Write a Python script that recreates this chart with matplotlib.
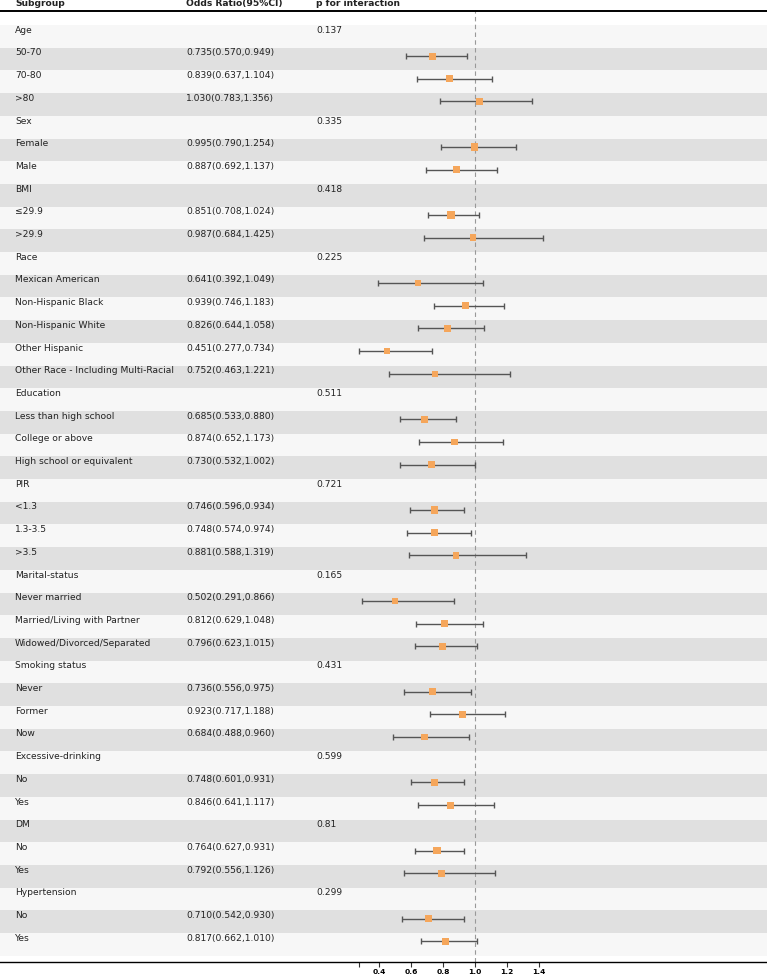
import numpy as np
import matplotlib
matplotlib.use("Agg")
from matplotlib import pyplot as plt
import matplotlib.transforms as mtransforms

# rows of the table, top to bottom
labels = ["Age", "50-70", "70-80", ">80",
          "Sex", "Female", "Male",
          "BMI", "≤29.9", ">29.9",
          "Race", "Mexican American", "Non-Hispanic Black", "Non-Hispanic White",
          "Other Hispanic", "Other Race - Including Multi-Racial",
          "Education", "Less than high school", "College or above", "High school or equivalent",
          "PIR", "<1.3", "1.3-3.5", ">3.5",
          "Marital-status", "Never married", "Married/Living with Partner", "Widowed/Divorced/Separated",
          "Smoking status", "Never", "Former", "Now",
          "Excessive-drinking", "No", "Yes",
          "DM", "No", "Yes",
          "Hypertension", "No", "Yes"]

# NaN for group header rows
odds = [np.nan, 0.735, 0.839, 1.030,
        np.nan, 0.995, 0.887,
        np.nan, 0.851, 0.987,
        np.nan, 0.641, 0.939, 0.826, 0.451, 0.752,
        np.nan, 0.685, 0.874, 0.730,
        np.nan, 0.746, 0.748, 0.881,
        np.nan, 0.502, 0.812, 0.796,
        np.nan, 0.736, 0.923, 0.684,
        np.nan, 0.748, 0.846,
        np.nan, 0.764, 0.792,
        np.nan, 0.710, 0.817]
lower = [np.nan, 0.570, 0.637, 0.783,
         np.nan, 0.790, 0.692,
         np.nan, 0.708, 0.684,
         np.nan, 0.392, 0.746, 0.644, 0.277, 0.463,
         np.nan, 0.533, 0.652, 0.532,
         np.nan, 0.596, 0.574, 0.588,
         np.nan, 0.291, 0.629, 0.623,
         np.nan, 0.556, 0.717, 0.488,
         np.nan, 0.601, 0.641,
         np.nan, 0.627, 0.556,
         np.nan, 0.542, 0.662]
upper = [np.nan, 0.949, 1.104, 1.356,
         np.nan, 1.254, 1.137,
         np.nan, 1.024, 1.425,
         np.nan, 1.049, 1.183, 1.058, 0.734, 1.221,
         np.nan, 0.880, 1.173, 1.002,
         np.nan, 0.934, 0.974, 1.319,
         np.nan, 0.866, 1.048, 1.015,
         np.nan, 0.975, 1.188, 0.960,
         np.nan, 0.931, 1.117,
         np.nan, 0.931, 1.126,
         np.nan, 0.930, 1.010]
p_inter = ["0.137", "", "", "",
           "0.335", "", "",
           "0.418", "", "",
           "0.225", "", "", "", "", "",
           "0.511", "", "", "",
           "0.721", "", "", "",
           "0.165", "", "", "",
           "0.431", "", "", "",
           "0.599", "", "",
           "0.81", "", "",
           "0.299", "", ""]

headers = ["Subgroup", "Odds Ratio(95%CI)", "p for interaction"]
xticks = [0.4, 0.6, 0.8, 1.0, 1.2, 1.4]

odds = np.array(odds)
lower = np.array(lower)
upper = np.array(upper)
n = len(labels)
rows = np.arange(n)

fig = plt.figure(figsize=(7.67, 9.76), dpi=100)
ax = fig.add_axes([0, 14 / 976, 1, 951 / 976])

txt = dict(family="DejaVu Sans", fontsize=6.6, color="#222222")

# striped background
for i in rows:
    ax.axhspan(i - 0.5, i + 0.5, color="#f7f7f7" if i % 2 == 0 else "#e0e0e0", zorder=0, lw=0)

ax.axvline(1.0, color="#999999", ls=(0, (4, 3)), lw=0.8, zorder=1)

has = ~np.isnan(odds)
ax.errorbar(odds[has], rows[has] - 0.13,
            xerr=[odds[has] - lower[has], upper[has] - odds[has]],
            fmt="none", ecolor="#555555", elinewidth=1.0, capsize=2.3, capthick=1.0, zorder=2)
# marker size grows with precision
prec = 1 / (np.log(upper[has]) - np.log(lower[has]))
sizes = 18 + 14 * (prec - prec.min()) / (prec.max() - prec.min())
ax.scatter(odds[has], rows[has] - 0.13, marker="s", s=sizes, color="#f5a65b", zorder=3, lw=0)

trans = mtransforms.blended_transform_factory(ax.transAxes, ax.transData)
col_x = [15 / 767, 186 / 767, 316 / 767]
for i in rows:
    ax.text(col_x[0], i - 0.27, labels[i], transform=trans, va="center", ha="left", **txt)
    if has[i]:
        ax.text(col_x[1], i - 0.27, "%.3f(%.3f,%.3f)" % (odds[i], lower[i], upper[i]),
                transform=trans, va="center", ha="left", **txt)
    if p_inter[i]:
        ax.text(col_x[2], i - 0.27, p_inter[i], transform=trans, va="center", ha="left", **txt)

for x, h in zip(col_x, headers):
    ax.text(x, -1.45, h, transform=trans, va="center", ha="left", fontweight="bold",
            clip_on=False, **txt)

ax.set_xlim(0.4 - 379 / 160, 0.4 + 388 / 160)
ax.set_ylim((962 - 36.35) / 22.7, (11 - 36.35) / 22.7)

ax.set_xticks([np.nanmin(lower)] + xticks)
ax.set_xticklabels([""] + ["%.1f" % v for v in xticks], fontsize=5.4, fontweight="bold")
ax.tick_params(axis="x", length=3.5, width=0.8, pad=1.5, color="#333333")
ax.set_yticks([])
for side in ["left", "right"]:
    ax.spines[side].set_visible(False)
ax.spines["top"].set_linewidth(1.4)
ax.spines["bottom"].set_linewidth(1.0)

fig.savefig("out.png", dpi=100)
